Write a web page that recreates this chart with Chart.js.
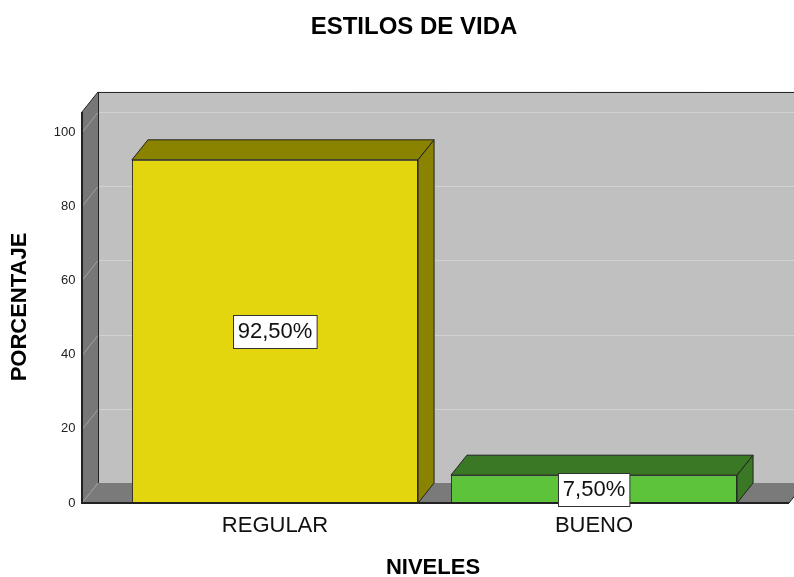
<!DOCTYPE html>
<html>
<head>
<meta charset="utf-8">
<script src="https://cdn.jsdelivr.net/npm/chart.js@4.4.0/dist/chart.umd.min.js"></script>
<style>
  html, body { margin: 0; padding: 0; background: #fff; }
  canvas { display: block; }
</style>
</head>
<body>
<canvas id="chart" width="794" height="577"></canvas>
<script>
// data
const categories = ['REGULAR', 'BUENO'];
const values = [92.5, 7.5];
const valueLabels = ['92,50%', '7,50%'];
const frontColors = ['#e3d60e', '#5dc33a'];
const shadeColors = ['#8a8300', '#3b7826'];

const chartTitle = 'ESTILOS DE VIDA';
const xTitle = 'NIVELES';
const yTitle = 'PORCENTAJE';

// 3d depth of walls and bars
const DX = 16, DY = 20;
const FONT = '"Liberation Sans", Arial, sans-serif';

const line = (ctx, x1, y1, x2, y2) => {
  ctx.beginPath();
  ctx.moveTo(x1, y1);
  ctx.lineTo(x2, y2);
  ctx.stroke();
};

const poly = (ctx, pts, fill, stroke) => {
  ctx.beginPath();
  ctx.moveTo(pts[0][0], pts[0][1]);
  pts.slice(1).forEach(p => ctx.lineTo(p[0], p[1]));
  ctx.closePath();
  ctx.fillStyle = fill;
  ctx.fill();
  if (stroke) {
    ctx.strokeStyle = stroke;
    ctx.stroke();
  }
};

// walls, floor and grid
const walls = {
  id: 'walls',
  beforeDatasetsDraw(chart) {
    const { ctx, chartArea: a, scales: { y } } = chart;
    const W = chart.width;
    const L = a.left - 33.5;        // front edge of left wall
    const R = a.right + 35.5;       // front right end of floor
    const base = y.getPixelForValue(0);
    const top = y.getPixelForValue(105.4);
    ctx.save();
    ctx.lineWidth = 1;

    // back wall
    ctx.fillStyle = '#c0c0c0';
    ctx.fillRect(L + DX, top - DY, W - L - DX, base - top);

    // grid on back wall + left wall
    y.ticks.forEach(t => {
      const py = Math.round(y.getPixelForValue(t.value)) + 0.5;
      ctx.strokeStyle = '#d2d2d2';
      line(ctx, L + DX, py - DY, W, py - DY);
    });

    // left wall
    poly(ctx, [[L, top], [L + DX, top - DY], [L + DX, base - DY], [L, base]], '#777777');
    y.ticks.forEach(t => {
      const py = Math.round(y.getPixelForValue(t.value)) + 0.5;
      ctx.strokeStyle = '#a0a0a0';
      line(ctx, L, py, L + DX, py - DY);
    });

    // floor
    poly(ctx, [[L, base], [L + DX, base - DY], [R + DX, base - DY], [R, base]], '#7a7a7a');
    ctx.strokeStyle = '#a0a0a0';
    line(ctx, L, base, L + DX, base - DY);

    // outlines
    ctx.strokeStyle = '#222';
    line(ctx, L + DX + 0.5, top - DY, L + DX + 0.5, base - DY);
    line(ctx, L + DX, top - DY + 0.5, W, top - DY + 0.5);
    line(ctx, L, top, L + DX, top - DY);
    line(ctx, R, base, R + DX, base - DY);
    ctx.lineWidth = 2;
    line(ctx, L, top, L, base + 1);
    line(ctx, L, base, R, base);
    ctx.restore();
  }
};

// bar tops, sides and value boxes
const bars3d = {
  id: 'bars3d',
  afterDatasetsDraw(chart) {
    const { ctx } = chart;
    const meta = chart.getDatasetMeta(0);
    ctx.save();
    ctx.lineWidth = 1;
    meta.data.forEach((bar, i) => {
      const l = bar.x - bar.width / 2, r = bar.x + bar.width / 2;
      const t = bar.y, b = bar.base;
      poly(ctx, [[l, t], [l + DX, t - DY], [r + DX, t - DY], [r, t]], shadeColors[i], '#222');
      poly(ctx, [[r, t], [r + DX, t - DY], [r + DX, b - DY], [r, b]], shadeColors[i], '#222');
    });

    // value boxes
    ctx.font = '22px ' + FONT;
    ctx.textAlign = 'center';
    ctx.textBaseline = 'middle';
    meta.data.forEach((bar, i) => {
      const cy = (bar.y + bar.base) / 2;
      const w = ctx.measureText(valueLabels[i]).width + 9;
      const h = 33;
      const bx = Math.round(bar.x - w / 2) + 0.5, by = Math.round(cy - h / 2) + 0.5;
      ctx.fillStyle = '#fff';
      ctx.fillRect(bx, by, w, h);
      ctx.strokeStyle = '#333';
      ctx.strokeRect(bx, by, w, h);
      ctx.fillStyle = '#111';
      ctx.fillText(valueLabels[i], bar.x, cy + 1);
    });
    ctx.restore();
  }
};

// titles
const titles = {
  id: 'titles',
  afterDraw(chart) {
    const { ctx } = chart;
    ctx.save();
    ctx.fillStyle = '#000';
    ctx.textAlign = 'center';
    ctx.textBaseline = 'middle';
    ctx.font = 'bold 24px ' + FONT;
    ctx.fillText(chartTitle, 414, 27);
    ctx.font = 'bold 22px ' + FONT;
    ctx.fillText(xTitle, 433, 568);
    ctx.translate(20, 307);
    ctx.rotate(-Math.PI / 2);
    ctx.fillText(yTitle, 0, 0);
    ctx.restore();
  }
};

const ctx = document.getElementById('chart').getContext('2d');

new Chart(ctx, {
  type: 'bar',
  data: {
    labels: categories,
    datasets: [{
      data: values,
      backgroundColor: frontColors,
      borderColor: '#222',
      borderWidth: 1,
      borderSkipped: false,
      barPercentage: 0.897,
      categoryPercentage: 1
    }]
  },
  options: {
    responsive: false,
    animation: false,
    layout: { padding: { top: 132, right: 40.5, left: 0, bottom: 0 } },
    plugins: {
      legend: { display: false },
      tooltip: { enabled: false }
    },
    scales: {
      x: {
        grid: { display: false, drawTicks: false },
        border: { display: false },
        ticks: { color: '#111', font: { family: FONT, size: 22 }, padding: 10 },
        afterFit: scale => { scale.height = 74; }
      },
      y: {
        min: 0,
        max: 100,
        grid: { display: false, drawTicks: false },
        border: { display: false },
        ticks: { stepSize: 20, color: '#222', font: { family: FONT, size: 13 }, padding: 40 },
        afterFit: scale => { scale.width = 115.5; }
      }
    }
  },
  plugins: [walls, bars3d, titles]
});
</script>
</body>
</html>
